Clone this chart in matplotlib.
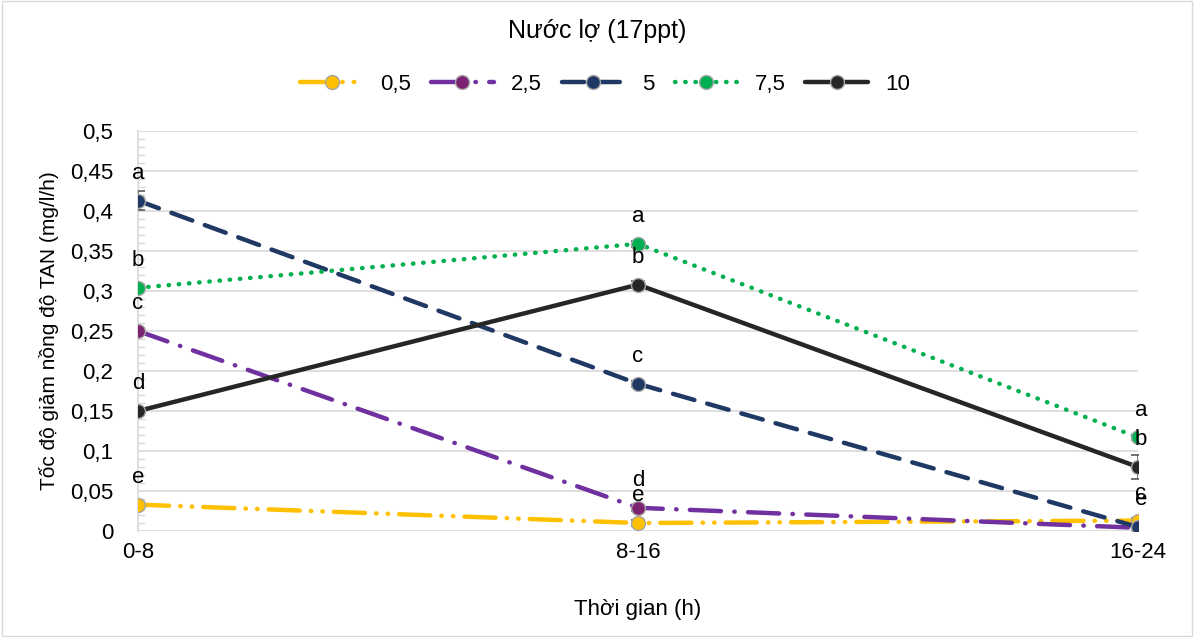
import matplotlib
matplotlib.use("Agg")
import matplotlib.pyplot as plt
import numpy as np
from matplotlib.ticker import MultipleLocator, FuncFormatter

plt.rcParams['font.family'] = ['Liberation Sans', 'DejaVu Sans']

categories = ["0-8", "8-16", "16-24"]
series_names = ["0,5", "2,5", "5", "7,5", "10"]
s_05 = [0.033, 0.010, 0.013]
s_25 = [0.250, 0.029, 0.004]
s_5 = [0.413, 0.184, 0.005]
s_75 = [0.304, 0.359, 0.117]
s_10 = [0.150, 0.308, 0.080]
err_05 = [0.003, 0.004, 0.003]
err_25 = [0.003, 0.004, 0.002]
err_5 = [0.012, 0.004, 0.003]
err_75 = [0.004, 0.004, 0.003]
err_10 = [0.003, 0.004, 0.015]
letters_05 = ["e", "e", "c"]
letters_25 = ["c", "d", ""]
letters_5 = ["a", "c", "e"]
letters_75 = ["b", "a", "a"]
letters_10 = ["d", "b", "b"]

colors = ["#FFC000", "#7030A0", "#1F3864", "#00B050", "#262626"]
marker_faces = ["#FFC000", "#7B2370", "#1F3864", "#00B050", "#262626"]
dashes = [(0, (7, 2.5, 0.1, 2.5, 0.1, 2.5)), (0, (7, 3, 0.1, 3)), (0, (5, 3)), (0, (0.1, 2.2)), "-"]

data = [s_05, s_25, s_5, s_75, s_10]
errs = [err_05, err_25, err_5, err_75, err_10]
letters = [letters_05, letters_25, letters_5, letters_75, letters_10]

fig = plt.figure(figsize=(11.94, 6.37), dpi=100)
ax = fig.add_axes([0.1156, 0.1664, 0.8375, 0.6279])
x = np.arange(len(categories))

for i in range(5):
    ax.errorbar(x, data[i], yerr=errs[i], fmt='none', ecolor='#595959', elinewidth=1.2,
                capsize=5, capthick=1.2, zorder=3)
    ax.plot(x, data[i], color=colors[i], linestyle=dashes[i], linewidth=3.2,
            marker='o', markersize=10, markerfacecolor=marker_faces[i],
            markeredgecolor='#A6A6A6', markeredgewidth=1, label=series_names[i],
            dash_capstyle='round', solid_capstyle='round', zorder=4)

for i in range(5):
    for j in range(3):
        if letters[i][j]:
            dx = 0.006 if j == 2 else 0.0
            ax.text(x[j] + dx, data[i][j] + 0.021, letters[i][j], ha='center', va='bottom',
                    fontsize=16, color='black', zorder=5)

ax.set_xlim(0, 2)
ax.set_ylim(0, 0.5)
ax.set_xticks(x)
ax.set_xticklabels(categories)
ax.yaxis.set_major_locator(MultipleLocator(0.05))
ax.yaxis.set_minor_locator(MultipleLocator(0.01))
ax.yaxis.set_major_formatter(FuncFormatter(lambda v, p: ("%g" % round(v, 2)).replace('.', ',')))
ax.grid(axis='y', which='major', color='#D9D9D9', linewidth=1.2)
ax.set_axisbelow(True)
for s in ['top', 'right', 'bottom']:
    ax.spines[s].set_visible(False)
ax.spines['left'].set_color('#D9D9D9')
ax.spines['left'].set_linewidth(1.2)
ax.tick_params(axis='y', which='major', length=0, labelsize=16, pad=18, labelcolor='#000000')
ax.tick_params(axis='y', which='minor', length=5, direction='in', color='#D9D9D9', width=1)
ax.tick_params(axis='x', length=5, direction='in', color='#D9D9D9', labelsize=16, pad=8)

ax.set_ylabel("Tốc độ giảm nồng độ TAN (mg/l/h)", fontsize=15, labelpad=8)
ax.set_xlabel("Thời gian (h)", fontsize=16, labelpad=26)
fig.text(0.5, 0.952, "Nước lợ (17ppt)", ha='center', va='center', fontsize=18)

leg = fig.legend(loc='center', bbox_to_anchor=(0.507, 0.868), ncol=5, frameon=False,
                 fontsize=16, handlelength=2.8, columnspacing=0.9, handletextpad=0.8)

border = plt.Rectangle((0.002, 0.002), 0.996, 0.996, transform=fig.transFigure,
                       fill=False, edgecolor='#D9D9D9', linewidth=1)
fig.patches.append(border)

fig.savefig("out.png", dpi=100)
